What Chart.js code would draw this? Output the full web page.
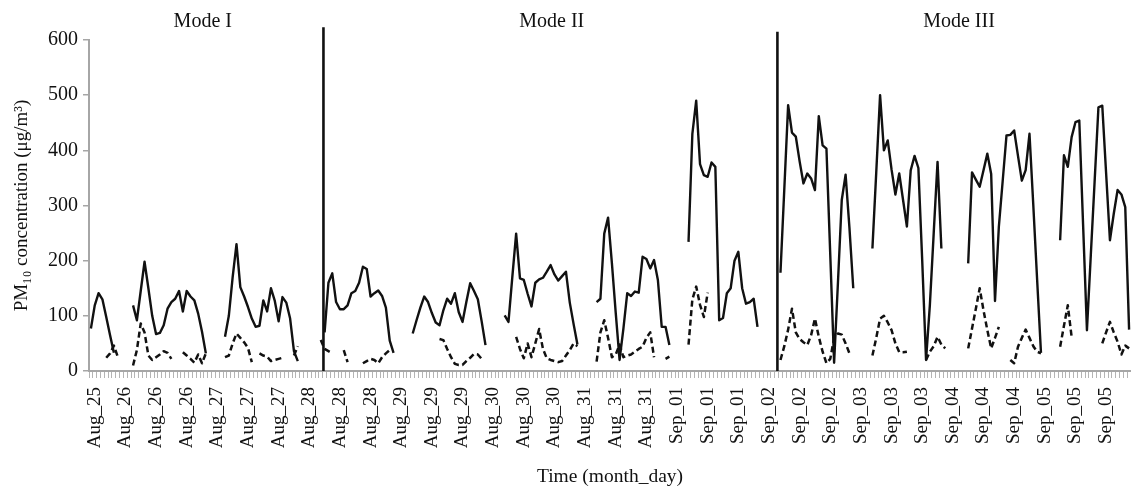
<!DOCTYPE html>
<html>
<head>
<meta charset="utf-8">
<script src="https://cdn.jsdelivr.net/npm/chart.js@4.4.1/dist/chart.umd.min.js"></script>
<style>
  html, body { margin: 0; padding: 0; background: #ffffff; }
  #wrap { width: 1131px; height: 489px; position: relative; }
</style>
</head>
<body>
<div id="wrap"><canvas id="chart"></canvas></div>
<script>
const _ = null;

// Visible tick labels (one every 8 hourly categories)
const tickLabels = [
  'Aug_25',
  'Aug_26', 'Aug_26', 'Aug_26',
  'Aug_27', 'Aug_27', 'Aug_27',
  'Aug_28', 'Aug_28', 'Aug_28',
  'Aug_29', 'Aug_29', 'Aug_29',
  'Aug_30', 'Aug_30', 'Aug_30',
  'Aug_31', 'Aug_31', 'Aug_31',
  'Sep_01', 'Sep_01', 'Sep_01',
  'Sep_02', 'Sep_02', 'Sep_02',
  'Sep_03', 'Sep_03', 'Sep_03',
  'Sep_04', 'Sep_04', 'Sep_04',
  'Sep_05', 'Sep_05', 'Sep_05'
];

// Hourly PM10 (solid line), µg/m3
const pm10Solid = [
  77,119,141,130,98,65,33,
  _,_,_,_,
  119,92,145,198,150,100,67,69,83,113,125,131,145,108,145,135,128,104,71,32,
  _,_,_,_,
  62,100,170,230,152,135,116,95,80,82,128,108,150,127,90,134,124,95,36,18,
  _,_,_,_,_,_,
  70,160,177,125,112,112,119,141,145,160,189,185,135,141,146,136,115,55,33,
  _,_,_,_,
  68,92,115,135,125,105,88,83,110,131,122,141,107,89,125,159,145,130,90,47,
  _,_,_,_,
  101,89,170,249,168,165,140,117,160,166,169,180,192,175,164,172,180,124,85,48,
  _,_,_,_,
  125,131,249,278,195,105,20,77,141,136,144,142,207,203,186,201,165,80,80,47,
  _,_,_,_,
  234,430,490,375,355,352,378,370,92,96,141,150,200,216,150,122,125,131,80,
  _,_,_,_,_,
  178,330,482,432,425,380,340,358,349,328,462,409,403,210,15,160,310,356,260,150,
  _,_,_,_,
  222,360,500,400,418,365,320,358,310,262,364,390,368,200,20,120,250,379,222,
  _,_,_,_,_,_,
  195,360,347,334,364,394,357,127,261,344,427,428,436,390,345,364,430,300,165,33,
  _,_,_,_,
  237,391,370,424,451,454,264,74,209,343,478,481,359,237,285,328,320,297,75
];

// Hourly PM10 (dashed line), µg/m3
const pm10Dashed = [
  _,_,_,_,
  24,32,46,26,
  _,_,_,
  10,38,86,70,28,20,25,30,36,33,22,
  _,_,
  34,28,22,15,30,14,32,
  _,_,_,_,
  25,28,50,68,60,52,42,16,
  _,
  32,28,26,18,20,22,24,
  _,_,
  28,45,
  _,_,_,_,_,
  56,40,36,32,
  _,_,
  38,16,
  _,_,_,
  14,18,22,20,14,25,32,38,
  _,_,_,_,_,_,_,_,_,_,_,_,
  58,56,40,25,13,11,11,18,24,31,30,22,
  _,_,_,_,_,_,_,_,
  62,40,23,50,25,50,76,40,23,20,18,16,18,28,38,50,45,
  _,_,_,_,
  17,70,92,60,25,30,48,25,28,30,35,40,44,60,70,25,
  _,_,
  22,26,
  _,_,_,_,
  48,130,153,120,98,142,
  _,_,_,_,_,_,_,_,_,_,_,_,_,_,_,_,_,_,
  20,45,75,113,70,58,52,47,65,95,62,35,14,22,60,68,66,50,32,
  _,_,_,_,_,
  28,60,95,100,88,74,50,34,34,35,
  _,_,_,_,
  20,35,45,62,48,41,
  _,_,_,_,_,
  41,77,113,150,110,74,41,60,80,
  _,_,
  20,14,44,60,75,60,45,35,32,
  _,_,_,_,
  44,82,119,62,
  _,_,_,_,_,_,_,
  50,70,89,70,53,30,46,41
];

// Mode annotations (in hourly-category units) and mode boundaries
const modeLabels  = ['Mode I', 'Mode II', 'Mode III'];
const modeCenters = [29.2, 120.3, 226.6];
const modeBreaks  = [60.7, 179.2];
const breakTops   = [623, 615];

const TICK_EVERY = 8;
const categories = pm10Solid.map((v, i) => {
  const k = Math.min(tickLabels.length - 1, Math.max(0, Math.floor((i - 1) / TICK_EVERY)));
  return tickLabels[k];
});

const SERIF = '"Liberation Serif", "Times New Roman", Times, serif';
const INK = '#111111';
const AXIS = '#a6a6a6';

const modePlugin = {
  id: 'modeText',
  afterDraw(chart) {
    const xs = chart.scales.xs;
    const ctx = chart.ctx;
    ctx.save();
    ctx.font = '20px ' + SERIF;
    ctx.fillStyle = INK;
    ctx.textAlign = 'center';
    ctx.textBaseline = 'alphabetic';
    modeLabels.forEach((t, k) => {
      ctx.fillText(t, xs.getPixelForValue(modeCenters[k]), 27);
    });
    ctx.restore();
  }
};

const sepData = modeBreaks.map((b, k) => [{ x: b, y: 0 }, { x: b, y: breakTops[k] }]);

new Chart(document.getElementById('chart'), {
  type: 'line',
  data: {
    labels: categories,
    datasets: [
      {
        label: 'PM10 (solid)',
        data: pm10Solid,
        borderColor: INK,
        borderWidth: 2.4,
        pointRadius: 0,
        borderJoinStyle: 'round',
        spanGaps: false,
        xAxisID: 'x', yAxisID: 'y'
      },
      {
        label: 'PM10 (dashed)',
        data: pm10Dashed,
        borderColor: INK,
        borderWidth: 2.5,
        borderDash: [6, 3.5],
        pointRadius: 0,
        borderJoinStyle: 'round',
        spanGaps: false,
        xAxisID: 'x', yAxisID: 'y'
      },
      {
        label: 'break 1',
        data: sepData[0],
        borderColor: INK,
        borderWidth: 2.6,
        pointRadius: 0,
        clip: false,
        xAxisID: 'xs', yAxisID: 'y'
      },
      {
        label: 'break 2',
        data: sepData[1],
        borderColor: INK,
        borderWidth: 2.6,
        pointRadius: 0,
        clip: false,
        xAxisID: 'xs', yAxisID: 'y'
      }
    ]
  },
  options: {
    responsive: true,
    maintainAspectRatio: false,
    animation: false,
    layout: { padding: { top: 40, right: -3, bottom: 0, left: 0 } },
    plugins: {
      legend: { display: false },
      tooltip: { enabled: false },
      title: { display: false }
    },
    scales: {
      x: {
        type: 'category',
        offset: true,
        afterFit: s => { s.height = 118; s.paddingLeft = 0; s.paddingRight = 0; },
        grid: {
          offset: true,
          drawOnChartArea: false,
          drawTicks: true,
          tickLength: 7,
          color: '#b4b4b4',
          lineWidth: 1
        },
        border: { display: true, color: AXIS, width: 2 },
        ticks: {
          autoSkip: false,
          maxRotation: 90,
          minRotation: 90,
          padding: 9,
          color: INK,
          font: { family: SERIF, size: 19 },
          callback: function (value, index) {
            return (index % TICK_EVERY === 1) ? this.getLabelForValue(value) : '';
          }
        },
        title: {
          display: true,
          text: 'Time (month_day)',
          color: INK,
          font: { family: SERIF, size: 19.5 },
          padding: { top: 0, bottom: 0 }
        }
      },
      xs: {
        type: 'linear',
        display: false,
        min: -0.5,
        max: pm10Solid.length - 0.5
      },
      y: {
        type: 'linear',
        min: 0,
        max: 600,
        afterFit: s => { s.width = 89; },
        grid: {
          drawOnChartArea: false,
          drawTicks: true,
          tickLength: 6,
          color: AXIS,
          lineWidth: 1.5
        },
        border: { display: true, color: AXIS, width: 2 },
        ticks: {
          stepSize: 100,
          padding: 5,
          color: INK,
          font: { family: SERIF, size: 20 }
        },
        title: {
          display: true,
          text: 'PM₁₀ concentration (μg/m³)',
          color: INK,
          font: { family: SERIF, size: 19 },
          padding: { top: 11, bottom: 4 }
        }
      }
    }
  },
  plugins: [modePlugin]
});
</script>
</body>
</html>
